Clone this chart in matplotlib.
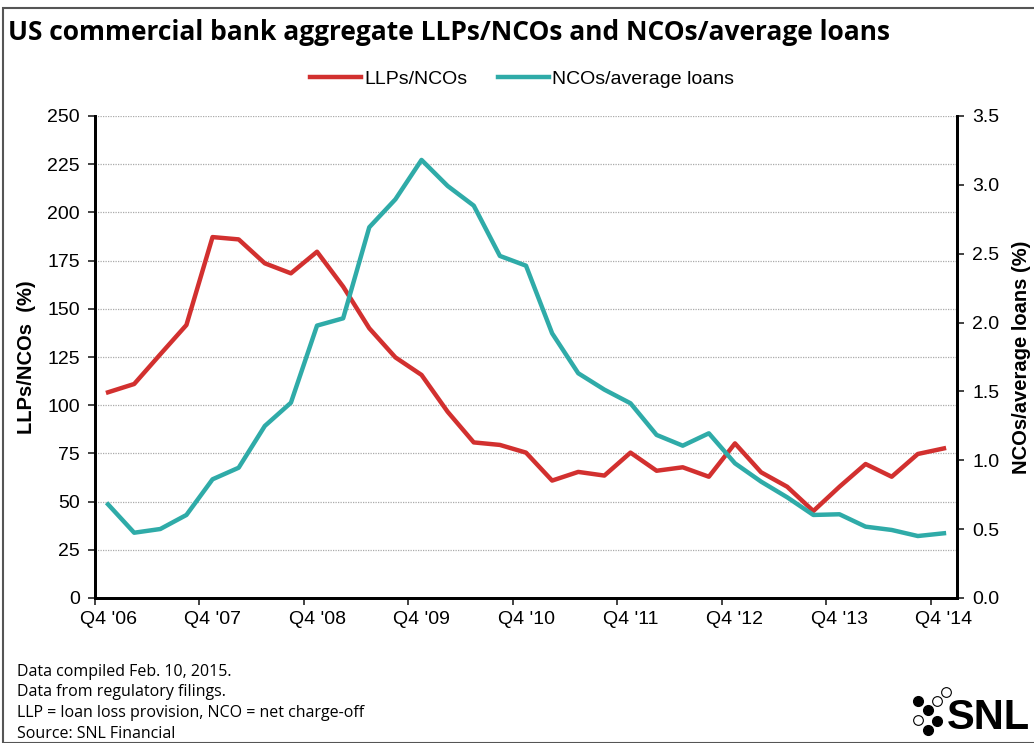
import matplotlib
matplotlib.use('Agg')
import matplotlib.pyplot as plt
from matplotlib.patches import Rectangle
from matplotlib.ticker import FixedLocator, FixedFormatter, FormatStrFormatter

plt.rcParams['font.family'] = ['Liberation Sans', 'DejaVu Sans']

# Quarters Q4 '06 .. Q4 '14
quarters = ["Q4 '06", "Q1 '07", "Q2 '07", "Q3 '07", "Q4 '07", "Q1 '08", "Q2 '08", "Q3 '08",
            "Q4 '08", "Q1 '09", "Q2 '09", "Q3 '09", "Q4 '09", "Q1 '10", "Q2 '10", "Q3 '10",
            "Q4 '10", "Q1 '11", "Q2 '11", "Q3 '11", "Q4 '11", "Q1 '12", "Q2 '12", "Q3 '12",
            "Q4 '12", "Q1 '13", "Q2 '13", "Q3 '13", "Q4 '13", "Q1 '14", "Q2 '14", "Q3 '14",
            "Q4 '14"]

# LLPs/NCOs (%), left axis
llp_nco = [106.7, 111.0, 126.4, 141.6, 187.2, 186.0, 173.6, 168.4,
           179.6, 161.5, 139.9, 124.8, 115.7, 96.6, 80.7, 79.4,
           75.4, 60.9, 65.4, 63.5, 75.4, 66.0, 67.8, 62.9,
           80.2, 65.2, 57.7, 45.1, 57.7, 69.5, 62.9, 74.7,
           77.6]

# NCOs/average loans (%), right axis
nco_loans = [0.68, 0.474, 0.501, 0.603, 0.862, 0.946, 1.249, 1.418,
             1.978, 2.031, 2.692, 2.895, 3.181, 2.992, 2.849, 2.484,
             2.413, 1.922, 1.632, 1.513, 1.414, 1.184, 1.106, 1.196,
             0.978, 0.845, 0.731, 0.603, 0.608, 0.518, 0.494, 0.450,
             0.470]

red = '#D2302F'
teal = '#2FABA8'

W, H = 1034, 743
fig = plt.figure(figsize=(W / 100, H / 100), dpi=100)

# outer frame
fig.patches.append(Rectangle((3 / W, 0), 1.2, 1 - 8 / H, transform=fig.transFigure,
                             fill=False, edgecolor='#555555', linewidth=1.5))

ax = fig.add_axes([95 / W, 1 - 598 / H, (957 - 95) / W, (598 - 116) / H])
ax2 = ax.twinx()

x = list(range(len(quarters)))
l1, = ax.plot(x, llp_nco, color=red, linewidth=3.2, label='LLPs/NCOs', zorder=3)
l2, = ax2.plot(x, nco_loans, color=teal, linewidth=3.2, label='NCOs/average loans', zorder=3)

ax.set_xlim(-0.5, len(quarters) - 0.5)
ax.set_ylim(0, 250)
ax2.set_ylim(0, 3.5)

ax.set_yticks(range(0, 251, 25))
ax2.set_yticks([i * 0.5 for i in range(8)])
ax2.yaxis.set_major_formatter(FormatStrFormatter('%.1f'))

# tick marks between categories, labels on every fourth quarter
ax.xaxis.set_major_locator(FixedLocator([i - 0.5 for i in range(0, len(quarters), 4)]))
ax.xaxis.set_major_formatter(FixedFormatter([''] * 9))
ax.xaxis.set_minor_locator(FixedLocator(list(range(0, len(quarters), 4))))
ax.xaxis.set_minor_formatter(FixedFormatter([quarters[i] for i in range(0, len(quarters), 4)]))
ax.tick_params(axis='x', which='major', direction='out', length=5, width=1.2, color='#222222')
ax.tick_params(axis='x', which='minor', length=0, pad=9, labelsize=14)
ax.tick_params(axis='y', direction='out', length=5, width=1.2, color='#222222', labelsize=14, pad=6)
ax2.tick_params(axis='y', direction='out', length=5, width=1.2, color='#222222', labelsize=14, pad=6)

ax.grid(axis='y', linestyle=(0, (1, 1)), color='#AAAAAA', linewidth=0.9)
ax.set_axisbelow(True)

for a in (ax, ax2):
    a.spines['top'].set_visible(False)
    for s in ('left', 'right', 'bottom'):
        a.spines[s].set_linewidth(2)
        a.spines[s].set_color('black')

ax.set_ylabel('LLPs/NCOs  (%)', fontsize=14.5, fontweight='bold', labelpad=8)
ax2.set_ylabel('NCOs/average loans (%)', fontsize=14.5, fontweight='bold', rotation=90, labelpad=9)

fig.text(8 / W, 1 - 32 / H, 'US commercial bank aggregate LLPs/NCOs and NCOs/average loans',
         fontsize=19, fontweight='bold', family=['Open Sans', 'DejaVu Sans'], va='center', ha='left')

fig.legend(handles=[l1, l2], loc='center', bbox_to_anchor=(522 / W, 1 - 79 / H), ncol=2,
           frameon=False, fontsize=14, handlelength=2.6, handletextpad=0.15, columnspacing=1.6)

notes = ['Data compiled Feb. 10, 2015.', 'Data from regulatory filings.',
         'LLP = loan loss provision, NCO = net charge-off', 'Source: SNL Financial']
for i, t in enumerate(notes):
    fig.text(17 / W, 1 - (672 + i * 20.5) / H, t, fontsize=11.5,
             family=['Open Sans', 'DejaVu Sans'], va='center', ha='left')

# SNL logo
dots_x = [917.7, 927.7, 936.7, 927.7]
dots_y = [700.7, 710, 720.7, 730]
ring_x = [946, 936.7, 917.7]
ring_y = [691.7, 700.7, 720]
fig.add_artist(plt.Line2D([v / W for v in dots_x], [1 - v / H for v in dots_y], linestyle='none',
                          marker='o', markersize=7, color='black', transform=fig.transFigure))
fig.add_artist(plt.Line2D([v / W for v in ring_x], [1 - v / H for v in ring_y], linestyle='none',
                          marker='o', markersize=7, markerfacecolor='white', markeredgecolor='black',
                          markeredgewidth=0.8, transform=fig.transFigure))
fig.text(988 / W, 1 - 718 / H, 'SNL', fontsize=30, fontweight='bold', va='center', ha='center')

fig.savefig('out.png', dpi=100)
